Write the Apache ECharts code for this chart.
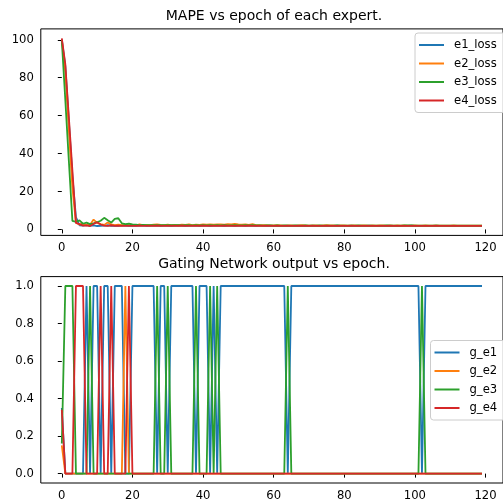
<!DOCTYPE html>
<html>
<head>
<meta charset="utf-8">
<script src="https://cdn.jsdelivr.net/npm/echarts@6/dist/echarts.min.js"></script>
<style>
html,body{margin:0;padding:0;background:#fff;}
#c{width:503px;height:502px;}
</style>
</head>
<body>
<div id="c"></div>
<script>
const lossNames = ['e1_loss', 'e2_loss', 'e3_loss', 'e4_loss'];
const gateNames = ['g_e1', 'g_e2', 'g_e3', 'g_e4'];
const colors = ['#1f77b4', '#ff7f0e', '#2ca02c', '#d62728'];
const xTicks = [0, 20, 40, 60, 80, 100, 120];
const lossTicks = [0, 20, 40, 60, 80, 100];
const gateTicks = [0, 0.2, 0.4, 0.6, 0.8, 1.0];

const e1_loss = [
 100.2, 86, 57, 28, 6.5, 2.2, 2.0, 2.3, 1.9, 2.1,
 1.8, 1.9, 2.0, 2.2, 1.9, 2.0, 1.9, 2.1, 2.0, 1.9,
 2.0, 1.9, 2.0, 2.1, 1.9, 2.0, 2.0, 2.1, 1.9, 2.0,
 2.0, 1.9, 2.0, 2.1, 2.0, 1.9, 2.0, 2.0, 2.1, 1.9,
 2.0, 2.0, 1.9, 2.0, 2.1, 2.0, 1.9, 2.0, 2.0, 1.9,
 2.0, 2.0, 1.9, 2.0, 2.0, 1.9, 2.0, 2.0, 1.9, 2.0,
 1.9, 2.0, 1.9, 1.9, 2.0, 1.9, 1.9, 2.0, 1.9, 1.9,
 1.9, 2.0, 1.9, 1.9, 1.9, 2.0, 1.9, 1.9, 2.0, 1.9,
 1.9, 1.9, 2.0, 1.9, 1.9, 1.9, 1.9, 2.0, 1.9, 1.9,
 1.9, 1.9, 1.9, 2.0, 1.9, 1.9, 1.9, 1.9, 1.9, 2.0,
 1.9, 1.9, 1.9, 1.9, 1.9, 1.9, 2.0, 1.9, 1.9, 1.9,
 1.9, 1.9, 1.9, 1.9, 1.9, 1.9, 1.9, 1.9, 1.9, 1.9];
const e2_loss = [
 100, 83, 52, 22, 3.5, 2.6, 3.0, 2.2, 2.5, 5.2,
 3.5, 2.8, 2.4, 3.7, 2.6, 2.3, 2.5, 2.2, 2.4, 2.3,
 2.4, 2.2, 2.6, 2.3, 2.4, 2.2, 2.5, 2.6, 2.4, 2.3,
 2.5, 2.3, 2.4, 2.2, 2.5, 2.4, 2.7, 2.3, 2.5, 2.4,
 2.6, 2.5, 2.7, 2.5, 2.6, 2.7, 2.5, 2.8, 2.6, 2.9,
 2.6, 2.5, 2.7, 2.4, 2.8, 2.3, 2.2, 2.3, 2.2, 2.1,
 2.1, 2.2, 2.1, 2.0, 2.1, 2.1, 2.0, 2.1, 2.2, 2.1,
 2.0, 2.1, 2.1, 2.0, 2.1, 2.2, 2.1, 2.1, 2.0, 2.1,
 2.1, 2.0, 2.1, 2.1, 2.0, 2.1, 2.1, 2.0, 2.1, 2.0,
 2.1, 2.1, 2.0, 2.1, 2.0, 2.1, 2.0, 2.1, 2.0, 2.0,
 2.1, 2.0, 2.0, 2.1, 2.0, 2.0, 2.1, 2.0, 2.0, 2.0,
 2.0, 2.1, 2.0, 2.0, 2.0, 2.0, 2.0, 2.0, 2.0, 2.0];
const e3_loss = [
 99.5, 68, 36, 4.5, 4.0, 4.8, 3.0, 3.6, 2.8, 3.2,
 3.8, 4.6, 6.1, 4.8, 3.6, 5.6, 5.9, 3.2, 2.8, 3.0,
 2.6, 2.5, 2.3, 2.4, 2.3, 2.2, 2.3, 2.2, 2.3, 2.2,
 2.2, 2.3, 2.2, 2.2, 2.1, 2.2, 2.2, 2.1, 2.2, 2.1,
 2.2, 2.1, 2.2, 2.1, 2.2, 2.1, 2.2, 2.1, 2.1, 2.2,
 2.1, 2.1, 2.2, 2.1, 2.3, 2.1, 2.1, 2.0, 2.1, 2.1,
 2.0, 2.1, 2.0, 2.1, 2.0, 2.0, 2.1, 2.0, 2.0, 2.1,
 2.0, 2.0, 2.0, 2.1, 2.0, 2.0, 2.0, 2.0, 2.1, 2.0,
 2.0, 2.0, 2.0, 2.0, 2.1, 2.0, 2.0, 2.0, 2.0, 2.0,
 2.0, 2.0, 2.1, 2.0, 2.0, 2.0, 2.0, 2.1, 2.1, 2.1,
 2.0, 2.0, 2.0, 2.0, 2.0, 2.0, 2.0, 2.0, 2.0, 2.0,
 2.0, 2.0, 2.0, 2.0, 2.0, 2.0, 2.0, 2.0, 2.0, 2.0];
const e4_loss = [
 100.8, 87, 59, 31, 3.5, 2.8, 2.0, 2.1, 1.8, 2.9,
 3.8, 2.6, 2.0, 1.9, 2.2, 1.9, 2.0, 1.9, 1.9, 1.9,
 1.9, 1.9, 2.0, 1.9, 1.9, 1.9, 1.9, 2.0, 1.9, 1.9,
 1.9, 1.9, 1.9, 1.9, 2.0, 1.9, 1.9, 1.9, 1.9, 1.9,
 2.0, 1.9, 1.9, 1.9, 1.9, 1.9, 2.0, 1.9, 1.9, 1.9,
 1.9, 1.9, 1.9, 2.0, 1.9, 1.9, 1.9, 1.9, 1.9, 1.9,
 1.9, 1.9, 1.9, 1.9, 1.9, 1.9, 1.9, 1.9, 1.9, 1.9,
 1.9, 1.9, 1.9, 1.9, 1.9, 1.9, 1.9, 1.9, 1.9, 1.9,
 1.9, 1.9, 1.9, 1.9, 1.9, 1.9, 1.9, 1.9, 1.9, 1.9,
 1.9, 1.9, 1.9, 1.9, 1.9, 1.9, 1.9, 1.9, 1.9, 1.9,
 1.9, 1.9, 1.9, 1.9, 1.9, 1.9, 1.9, 1.9, 1.9, 1.9,
 1.9, 1.9, 1.9, 1.9, 1.9, 1.9, 1.9, 1.9, 1.9, 1.9];

const g_e1 = [
 0.35, 0, 0, 0, 0, 0, 0, 1, 0, 1,
 1, 0, 1, 1, 0, 1, 1, 1, 0, 0,
 1, 1, 1, 1, 1, 1, 1, 0, 1, 1,
 0, 1, 1, 1, 1, 1, 1, 1, 0, 1,
 1, 1, 0, 1, 0, 1, 1, 1, 1, 1,
 1, 1, 1, 1, 1, 1, 1, 1, 1, 1,
 1, 1, 1, 1, 0, 1, 1, 1, 1, 1,
 1, 1, 1, 1, 1, 1, 1, 1, 1, 1,
 1, 1, 1, 1, 1, 1, 1, 1, 1, 1,
 1, 1, 1, 1, 1, 1, 1, 1, 1, 1,
 1, 1, 0, 1, 1, 1, 1, 1, 1, 1,
 1, 1, 1, 1, 1, 1, 1, 1, 1, 1];
const g_e2 = [
 0.15, 0, 0, 0, 0, 0, 0, 0, 0, 0,
 0, 0, 0, 0, 0, 0, 0, 0, 1, 0,
 0, 0, 0, 0, 0, 0, 0, 0, 0, 0,
 0, 0, 0, 0, 0, 0, 0, 0, 0, 0,
 0, 0, 0, 0, 0, 0, 0, 0, 0, 0,
 0, 0, 0, 0, 0, 0, 0, 0, 0, 0,
 0, 0, 0, 0, 0, 0, 0, 0, 0, 0,
 0, 0, 0, 0, 0, 0, 0, 0, 0, 0,
 0, 0, 0, 0, 0, 0, 0, 0, 0, 0,
 0, 0, 0, 0, 0, 0, 0, 0, 0, 0,
 0, 0, 0, 0, 0, 0, 0, 0, 0, 0,
 0, 0, 0, 0, 0, 0, 0, 0, 0, 0];
const g_e3 = [
 0.16, 1, 1, 1, 0, 0, 0, 0, 1, 0,
 0, 0, 0, 0, 0, 0, 0, 0, 0, 0,
 0, 0, 0, 0, 0, 0, 0, 1, 0, 0,
 1, 0, 0, 0, 0, 0, 0, 0, 1, 0,
 0, 0, 1, 0, 1, 0, 0, 0, 0, 0,
 0, 0, 0, 0, 0, 0, 0, 0, 0, 0,
 0, 0, 0, 0, 1, 0, 0, 0, 0, 0,
 0, 0, 0, 0, 0, 0, 0, 0, 0, 0,
 0, 0, 0, 0, 0, 0, 0, 0, 0, 0,
 0, 0, 0, 0, 0, 0, 0, 0, 0, 0,
 0, 0, 1, 0, 0, 0, 0, 0, 0, 0,
 0, 0, 0, 0, 0, 0, 0, 0, 0, 0];
const g_e4 = [
 0.34, 0, 0, 0, 1, 1, 1, 0, 0, 0,
 0, 1, 0, 0, 1, 0, 0, 0, 0, 1,
 0, 0, 0, 0, 0, 0, 0, 0, 0, 0,
 0, 0, 0, 0, 0, 0, 0, 0, 0, 0,
 0, 0, 0, 0, 0, 0, 0, 0, 0, 0,
 0, 0, 0, 0, 0, 0, 0, 0, 0, 0,
 0, 0, 0, 0, 0, 0, 0, 0, 0, 0,
 0, 0, 0, 0, 0, 0, 0, 0, 0, 0,
 0, 0, 0, 0, 0, 0, 0, 0, 0, 0,
 0, 0, 0, 0, 0, 0, 0, 0, 0, 0,
 0, 0, 0, 0, 0, 0, 0, 0, 0, 0,
 0, 0, 0, 0, 0, 0, 0, 0, 0, 0];

const lossSeries = [e1_loss, e2_loss, e3_loss, e4_loss];
const gateSeries = [g_e1, g_e2, g_e3, g_e4];

function pairs(arr) { return arr.map((v, i) => [i, v]); }
function padRange(arrs) {
  let lo = Infinity, hi = -Infinity;
  arrs.forEach(a => a.forEach(v => { lo = Math.min(lo, v); hi = Math.max(hi, v); }));
  const m = (hi - lo) * 0.05;
  return [lo - m, hi + m];
}
const nEpoch = e1_loss.length;
const xr = [-(nEpoch - 1) * 0.05, (nEpoch - 1) * 1.05];
const lr = padRange(lossSeries);
const gr = padRange(gateSeries);

const FONT = 'DejaVu Sans';
const tickFs = 11.6;

function xAxis(gi) {
  return {
    type: 'value', gridIndex: gi, min: xr[0], max: xr[1],
    axisLine: { show: false },
    splitLine: { show: false },
    axisTick: { show: true, customValues: xTicks, length: 4, lineStyle: { color: '#000', width: 1 } },
    axisLabel: { customValues: xTicks, margin: 7, color: '#000', fontFamily: FONT, fontSize: tickFs,
                 formatter: v => String(Math.round(v)) }
  };
}
function yAxis(gi, r, ticks, fmt) {
  return {
    type: 'value', gridIndex: gi, min: r[0], max: r[1],
    axisLine: { show: false },
    splitLine: { show: false },
    axisTick: { show: true, customValues: ticks, length: 4, lineStyle: { color: '#000', width: 1 } },
    axisLabel: { customValues: ticks, margin: 7, color: '#000', fontFamily: FONT, fontSize: tickFs, formatter: fmt }
  };
}

const series = [];
lossSeries.forEach((arr, k) => series.push({
  name: lossNames[k], type: 'line', xAxisIndex: 0, yAxisIndex: 0,
  data: pairs(arr), showSymbol: false, symbol: 'none',
  lineStyle: { color: colors[k], width: 1.8 }, itemStyle: { color: colors[k] }
}));
gateSeries.forEach((arr, k) => series.push({
  name: gateNames[k], type: 'line', xAxisIndex: 1, yAxisIndex: 1,
  data: pairs(arr), showSymbol: false, symbol: 'none',
  lineStyle: { color: colors[k], width: 1.8 }, itemStyle: { color: colors[k] }
}));

function legend(names, left, top) {
  return {
    data: names.map(n => ({ name: n, icon: 'rect' })),
    orient: 'vertical', left: left, top: top,
    itemWidth: 25, itemHeight: 2, itemGap: 6.5,
    padding: [6, 40, 6, 4],
    backgroundColor: 'rgba(255,255,255,0.8)',
    borderColor: '#cccccc', borderWidth: 1, borderRadius: 3,
    textStyle: { fontFamily: FONT, fontSize: tickFs, color: '#000', lineHeight: 12, padding: [0, 0, 0, 5] },
    selectedMode: false
  };
}

const chart = echarts.init(document.getElementById('c'), null, { renderer: 'canvas' });
chart.setOption({
  animation: false,
  backgroundColor: '#fff',
  title: [
    { text: 'MAPE vs epoch of each expert.', left: 274, top: 9.5, textAlign: 'center', padding: 0,
      textStyle: { fontFamily: FONT, fontSize: 14, fontWeight: 'normal', color: '#000' } },
    { text: 'Gating Network output vs epoch.', left: 274, top: 257.5, textAlign: 'center', padding: 0,
      textStyle: { fontFamily: FONT, fontSize: 14, fontWeight: 'normal', color: '#000' } }
  ],
  grid: [
    { left: 40.8, top: 28.9, width: 467, height: 206.5, show: true, borderColor: '#000', borderWidth: 1, backgroundColor: 'transparent' },
    { left: 40.8, top: 276.6, width: 467, height: 206.8, show: true, borderColor: '#000', borderWidth: 1, backgroundColor: 'transparent' }
  ],
  legend: [legend(lossNames, 415, 33), legend(gateNames, 430.5, 340.5)],
  xAxis: [xAxis(0), xAxis(1)],
  yAxis: [
    yAxis(0, lr, lossTicks, v => String(Math.round(v))),
    yAxis(1, gr, gateTicks, v => v.toFixed(1))
  ],
  series: series
});
</script>
</body>
</html>
